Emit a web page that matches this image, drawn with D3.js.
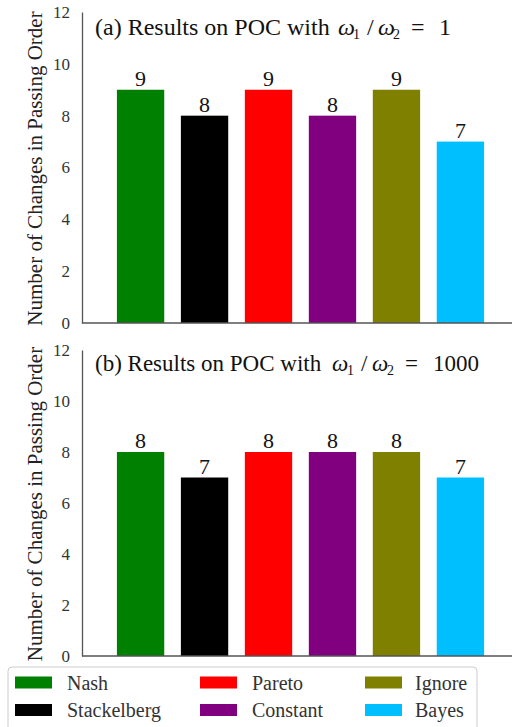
<!DOCTYPE html>
<html><head><meta charset="utf-8">
<script src="https://cdn.jsdelivr.net/npm/d3@7"></script>
<style>body{margin:0;background:#fff}svg{display:block}</style>
</head><body>
<svg id="c" width="512" height="727" font-family="Liberation Serif"></svg>
<script>
const categories = ["Nash","Stackelberg","Pareto","Constant","Ignore","Bayes"];
const colors = ["#008000","#000000","#ff0000","#800080","#808000","#00bfff"];
const valuesA = [9,8,9,8,9,7];
const valuesB = [8,7,8,8,8,7];
const yTicks = [0,2,4,6,8,10,12];
const titleA = {pre:"(a) Results on POC with", ratio:"1"};
const titleB = {pre:"(b) Results on POC with", ratio:"1000"};
const yLabel = "Number of Changes in Passing Order";
const FF = "Liberation Serif";

const svg = d3.select("#c");
const x = d3.scaleBand().domain(categories).range([99,502]).paddingInner(0.26).paddingOuter(0.28);

function panel(vals, title, top, bottom, tsize, tBase, mathOff){
  const y = d3.scaleLinear().domain([0,12]).range([bottom, top]);
  const g = svg.append("g");
  g.selectAll("rect.bar").data(vals).enter().append("rect")
    .attr("x",(d,i)=>x(categories[i])).attr("width",x.bandwidth())
    .attr("y",d=>y(d)).attr("height",d=>y(0)-y(d))
    .attr("fill",(d,i)=>colors[i]);
  g.selectAll("text.val").data(vals).enter().append("text")
    .attr("x",(d,i)=>x(categories[i])+x.bandwidth()/2).attr("y",d=>y(d)-4)
    .attr("text-anchor","middle").attr("font-size",22).attr("font-family",FF).attr("fill","#111").text(d=>d);
  const ya = d3.axisLeft(y).tickValues(yTicks).tickSize(0).tickPadding(12);
  const ag = g.append("g").attr("transform","translate(82,0)").call(ya).attr("font-family",FF);
  ag.select(".domain").attr("stroke","#555").attr("stroke-width",1.3);
  ag.selectAll("text").attr("font-size",17).attr("fill","#333").attr("font-family",FF);
  g.append("line").attr("x1",82).attr("x2",512).attr("y1",y(0)).attr("y2",y(0)).attr("stroke","#555").attr("stroke-width",1.5);
  const tg = g.append("g").attr("font-family",FF).attr("fill","#111");
  tg.append("text").attr("x",95).attr("y",tBase).attr("font-size",tsize).text(title.pre);
  const m = mathOff;
  const parts = [
    {t:"ω",dx:0,dy:0,s:tsize,it:true},
    {t:"1",dx:15,dy:4,s:14},
    {t:"/",dx:29,dy:0,s:tsize},
    {t:"ω",dx:40,dy:0,s:tsize,it:true},
    {t:"2",dx:55,dy:4,s:14},
    {t:"=",dx:73,dy:0,s:tsize},
    {t:title.ratio,dx:101,dy:0,s:tsize}
  ];
  const mt = tg.append("text").attr("y",tBase).attr("font-size",tsize);
  parts.forEach(p=>mt.append("tspan").attr("x",m+p.dx).attr("y",tBase+p.dy).attr("font-size",p.s)
    .attr("font-style",p.it?"italic":"normal").text(p.t));
  g.append("text").attr("transform",`translate(42,${(top+bottom)/2+1}) rotate(-90)`)
    .attr("text-anchor","middle").attr("font-size",21).attr("font-family",FF).attr("fill","#222").text(yLabel);
}
panel(valuesA, titleA, 12, 323, 24, 35, 338);
panel(valuesB, titleB, 350, 656, 23, 371, 332);

const lg = svg.append("g");
lg.append("rect").attr("x",8).attr("y",667).attr("width",469).attr("height",70).attr("rx",4)
  .attr("fill","#fff").attr("stroke","#ccc").attr("stroke-width",1);
const colX = [15,200,365];
const labX = [67,252,415];
categories.forEach((c,i)=>{
  const col = Math.floor(i/2), row = i%2;
  const cy = 682.5 + row*27.5;
  lg.append("rect").attr("x",colX[col]).attr("y",cy-6).attr("width",37).attr("height",12).attr("fill",colors[i]);
  lg.append("text").attr("x",labX[col]).attr("y",cy+7).attr("font-size",20).attr("font-family",FF).attr("fill","#333").text(c);
});
</script>
</body></html>
